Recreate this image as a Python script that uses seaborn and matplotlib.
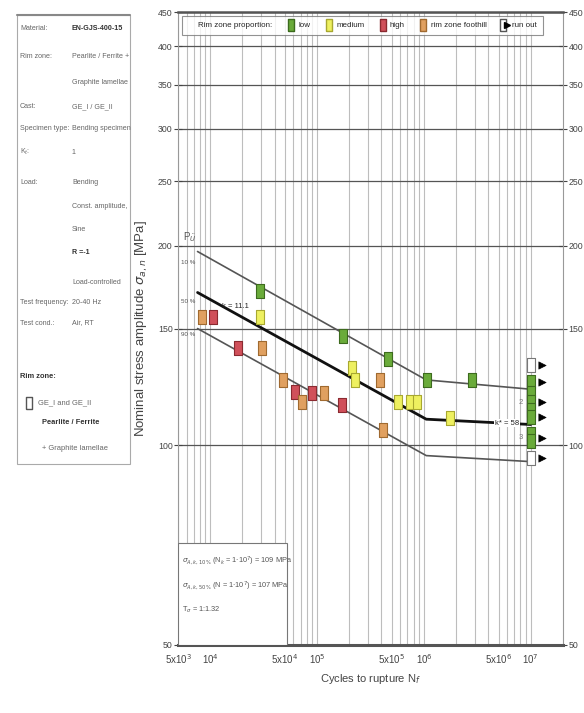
import matplotlib
matplotlib.use("Agg")
import matplotlib.pyplot as plt
import seaborn as sns
import pandas as pd
import numpy as np
from matplotlib.lines import Line2D
from matplotlib.patches import Rectangle
from matplotlib.legend_handler import HandlerTuple

sns.set_style("white")
plt.rcParams['font.family'] = ['Liberation Sans', 'DejaVu Sans']

# data
low_N = [2.93e4, 1.75e5, 4.6e5, 1.07e6, 2.8e6]
low_S = [171, 146, 135, 125.5, 125.5]
medium_N = [2.93e4, 2.12e5, 2.26e5, 5.7e5, 7.4e5, 8.6e5, 1.75e6]
medium_S = [156, 131, 125.5, 116.2, 116.2, 116.2, 110]
high_N = [1.05e4, 1.83e4, 6.2e4, 9.0e4, 1.71e5]
high_S = [156, 140, 120.3, 120, 115]
foothill_N = [8.4e3, 3.06e4, 4.8e4, 7.25e4, 1.16e5, 3.9e5, 4.1e5]
foothill_S = [156, 140, 125.5, 116.2, 120, 125.5, 105.5]

runout_low_N = [1e7, 1e7, 1e7, 1e7, 1e7, 1e7, 1e7]
runout_low_S = [124.6, 120, 116.2, 113, 110.3, 104, 101.5]
runout_open_N = [1e7, 1e7]
runout_open_S = [132, 95.7]
arrow_N = [1.27e7] * 6
arrow_S = [132, 124.6, 116.2, 110.3, 102.6, 95.7]

# S-N curves (10 %, 50 %, 90 %)
curve_N = [7.6e3, 1.05e6, 1e7]
curve10_S = [196, 125.5, 121.5]
curve50_S = [170, 109.5, 107.5]
curve90_S = [150, 96.5, 94.5]

y_ticks = [50, 100, 150, 200, 250, 300, 350, 400, 450]
x_ticks = [5e3, 1e4, 5e4, 1e5, 5e5, 1e6, 5e6, 1e7]
x_labels = [r"5x10$^3$", r"10$^4$", r"5x10$^4$", r"10$^5$", r"5x10$^5$", r"10$^6$", r"5x10$^6$", r"10$^7$"]

colors = {"low": ("#6aab3a", "#3d6b1e"), "medium": ("#eef060", "#a8a830"),
          "high": ("#d0505a", "#8a2a30"), "foothill": ("#e0a060", "#a06a30")}

rect = [(-0.5, -1), (0.5, -1), (0.5, 1), (-0.5, 1), (-0.5, -1)]

fig = plt.figure(figsize=(5.84, 7.13), dpi=100)
ax = fig.add_axes([0.305, 0.0954, 0.659, 0.8876])

ax.set_xscale("log")
ax.set_yscale("log")
ax.set_xlim(5e3, 2e7)
ax.set_ylim(50, 450)

# curves
sns.lineplot(x=curve_N, y=curve10_S, ax=ax, sort=False, estimator=None, color="#555555", lw=1.2)
sns.lineplot(x=curve_N, y=curve50_S, ax=ax, sort=False, estimator=None, color="#111111", lw=2.0)
sns.lineplot(x=curve_N, y=curve90_S, ax=ax, sort=False, estimator=None, color="#555555", lw=1.2)

for key, (xs, ys) in {"low": (low_N, low_S), "medium": (medium_N, medium_S),
                      "high": (high_N, high_S), "foothill": (foothill_N, foothill_S)}.items():
    fc, ec = colors[key]
    sns.scatterplot(x=xs, y=ys, ax=ax, marker=rect, s=110, color=fc, edgecolor=ec,
                    linewidth=0.8, zorder=5)

sns.scatterplot(x=runout_low_N, y=runout_low_S, ax=ax, marker=rect, s=110,
                color=colors["low"][0], edgecolor=colors["low"][1], linewidth=0.8, zorder=5)
sns.scatterplot(x=runout_open_N, y=runout_open_S, ax=ax, marker=rect, s=110,
                color="white", edgecolor="#777777", linewidth=0.8, zorder=5)
sns.scatterplot(x=arrow_N, y=arrow_S, ax=ax, marker=">", s=28, color="black",
                edgecolor="black", zorder=5)

# axes styling
ax.set_yticks(y_ticks)
ax.set_yticklabels([str(v) for v in y_ticks])
ax.yaxis.set_minor_locator(matplotlib.ticker.NullLocator())
ax.set_xticks(x_ticks)
ax.set_xticklabels(x_labels)
minor = [m * 10 ** e for e in range(3, 8) for m in range(2, 10)]
minor = [v for v in minor if 5e3 < v < 2e7 and v not in x_ticks]
ax.set_xticks(minor, minor=True)
ax.tick_params(axis="x", which="minor", labelbottom=False, length=4, direction="inout", color="#444444")
ax.tick_params(axis="x", which="major", length=7, direction="inout", color="#444444",
               labelsize=7, labelcolor="#444444", pad=2)
ax.tick_params(axis="y", which="major", length=6, direction="inout", right=True, labelright=True,
               left=True, labelsize=6.3, labelcolor="#444444", color="#444444", pad=1)
ax.grid(True, axis="x", which="both", color="#bdbdbd", lw=0.8)
ax.grid(True, axis="y", which="major", color="#555555", lw=0.9)
for s in ["left", "right"]:
    ax.spines[s].set_color("#999999")
    ax.spines[s].set_linewidth(0.8)
ax.spines["top"].set_color("#555555")
ax.spines["top"].set_linewidth(1.8)
ax.spines["bottom"].set_color("#555555")
ax.spines["bottom"].set_linewidth(2.2)

ax.set_xlabel(r"Cycles to rupture N$_f$", fontsize=8, color="#444444", labelpad=4)
ax.set_ylabel(r"Nominal stress amplitude $\sigma_{a,n}$ [MPa]", fontsize=9.5, color="#444444")
ax.yaxis.set_label_coords(-0.072, 0.5)

# curve annotations
ax.text(5.3e3, 188, "10 %", fontsize=4.5, color="#555555")
ax.text(5.3e3, 164, "50 %", fontsize=4.5, color="#555555")
ax.text(5.3e3, 146, "90 %", fontsize=4.5, color="#555555")
ax.text(5.6e3, 204, r"P$_{\ddot{U}}$", fontsize=7, color="#555555")
ax.text(1.3e4, 161, "k = 11.1", fontsize=5.5, color="#222222")
ax.text(6.0e6, 108, "k* = 58", fontsize=5.5, color="#222222", ha="center", va="center",
        bbox=dict(facecolor="white", edgecolor="none", pad=0.5))
ax.text(8.4e6, 116.2, "2", fontsize=5.5, color="#777777", ha="right", va="center")
ax.text(8.4e6, 102.6, "3", fontsize=5.5, color="#777777", ha="right", va="center")

# legend
h_title = Line2D([], [], linestyle="none")
def sq(key):
    return Line2D([], [], linestyle="none", marker=rect, markersize=9,
                  markerfacecolor=colors[key][0], markeredgecolor=colors[key][1])
h_run = (Line2D([], [], linestyle="none", marker=rect, markersize=9, markerfacecolor="white",
                markeredgecolor="#555555"),
         Line2D([], [], linestyle="none", marker=">", markersize=4, color="black"))
leg = ax.legend([h_title, sq("low"), sq("medium"), sq("high"), sq("foothill"), h_run],
                ["Rim zone proportion:", "low", "medium", "high", "rim zone foothill", "run out"],
                ncol=6, loc="upper left", bbox_to_anchor=(0.0, 1.0), fontsize=5.8,
                handlelength=0.8, handletextpad=0.5, columnspacing=1.9, frameon=True,
                fancybox=False, edgecolor="#777777", borderpad=0.7,
                handler_map={tuple: HandlerTuple(ndivide=None, pad=0.3)})
leg.get_frame().set_linewidth(0.8)

# bottom-left text box
ax.add_patch(Rectangle((0, 0), 0.283, 0.161, transform=ax.transAxes, facecolor="white",
                       edgecolor="#777777", lw=0.8, zorder=6))
ax.text(0.01, 0.132, r"$\sigma_{A,k,10\%}$ (N$_k$ = 1$\cdot$10$^7$) = 109 MPa", transform=ax.transAxes,
        fontsize=5.3, color="#555555", zorder=7, va="center")
ax.text(0.01, 0.093, r"$\sigma_{A,k,50\%}$ (N = 1$\cdot$10$^7$) = 107 MPa", transform=ax.transAxes,
        fontsize=5.3, color="#555555", zorder=7, va="center")
ax.text(0.01, 0.055, r"T$_\sigma$ = 1:1.32", transform=ax.transAxes,
        fontsize=5.3, color="#555555", zorder=7, va="center")

# left info box
W, H = 584, 713
def fx(px):
    return px / W
def fy(py):
    return 1 - py / H
fig.patches.append(Rectangle((fx(17), fy(464)), fx(130) - fx(17), fy(15) - fy(464),
                             transform=fig.transFigure, facecolor="white", edgecolor="#aaaaaa", lw=0.8))
fig.add_artist(Line2D([fx(17), fx(130)], [fy(15), fy(15)], transform=fig.transFigure,
                      color="#888888", lw=1.5))
rows = [
    (28, "Material:", "EN-GJS-400-15", True),
    (57, "Rim zone:", "Pearlite / Ferrite +", False),
    (82, "", "Graphite lamellae", False),
    (107, "Cast:", "GE_I / GE_II", False),
    (128, "Specimen type:", "Bending specimen", False),
    (152, r"K$_t$:", "1", False),
    (182, "Load:", "Bending", False),
    (207, "", "Const. amplitude,", False),
    (230, "", "Sine", False),
    (253, "", "R =-1", True),
    (282, "", "Load-controlled", False),
    (303, "Test frequency:", "20-40 Hz", False),
    (323, "Test cond.:", "Air, RT", False),
]
for py, left, right, bold in rows:
    fig.text(fx(20), fy(py), left, fontsize=5.1, color="#666666", va="center")
    fig.text(fx(72), fy(py), right, fontsize=5.1, color="#333333" if bold else "#666666",
             va="center", fontweight="bold" if bold else "normal")
fig.text(fx(20), fy(377), "Rim zone:", fontsize=5.4, color="#333333", va="center", fontweight="bold")
fig.add_artist(Line2D([fx(29)], [fy(403)], transform=fig.transFigure, marker=rect, markersize=8,
                      markerfacecolor="white", markeredgecolor="#555555", linestyle="none"))
fig.text(fx(38), fy(403), "GE_I and GE_II", fontsize=5.4, color="#666666", va="center")
fig.text(fx(42), fy(423), "Pearlite / Ferrite", fontsize=5.4, color="#333333", va="center",
         fontweight="bold")
fig.text(fx(42), fy(448), "+ Graphite lamellae", fontsize=5.4, color="#666666", va="center")

plt.savefig("out.png", dpi=100)
